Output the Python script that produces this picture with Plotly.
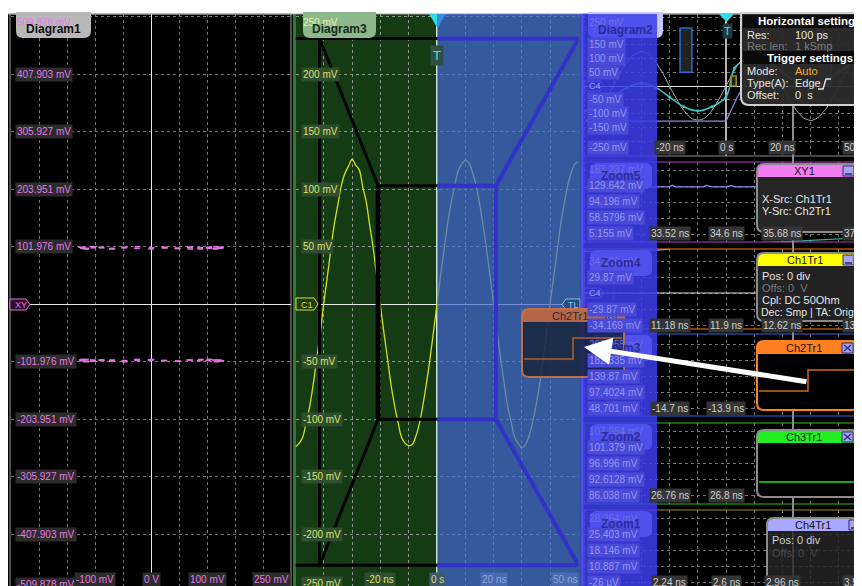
import plotly.graph_objects as go

OFF = 8  # page body margin offset of the figure in the window
W, H = 862 - OFF, 586 - OFF
def px(x): return (x - OFF) / W
def py(y): return 1 - (y - OFF) / H

# ---------------- data ----------------
t_ns = [-50, -48.75, -47.5, -46.25, -45, -43.75, -42.5, -41.25, -40, -38.75,
        -37.5, -36.25, -35, -33.75, -32.5, -31.25, -30, -28.75, -27.5, -26.25,
        -25, -23.75, -22.5, -21.25, -20, -18.75, -17.5, -16.25, -15, -13.75,
        -12.5, -11.25, -10, -8.75, -7.5, -6.25, -5, -3.75, -2.5, -1.25,
        0, 1.25, 2.5, 3.75, 5, 6.25, 7.5, 8.75, 10, 11.25,
        12.5, 13.75, 15, 16.25, 17.5, 18.75, 20, 21.25, 22.5, 23.75,
        25, 26.25, 27.5, 28.75, 30, 31.25, 32.5, 33.75, 35, 36.25,
        37.5, 38.75, 40, 41.25, 42.5, 43.75, 45, 46.25, 47.5, 48.75, 50]
ch1_mv = [-124, -121, -116, -103, -89, -70, -47, -25, 1, 24,
          48, 70, 87, 104, 114, 120, 126, 121, 117, 102,
          89, 68, 48, 23, -1, -25, -47, -70, -88, -103,
          -116, -121, -123, -122, -115, -104, -88, -69, -48, -24,
          0, 25, 47, 70, 88, 103, 116, 122, 125, 123,
          115, 104, 88, 69, 48, 24, 0, -24, -48, -69,
          -89, -103, -116, -121, -125, -122, -115, -103, -88, -70,
          -47, -25, 1, 24, 47, 70, 88, 104, 115, 122, 124]
ch2_mv = [-99, -100, -98, -101, -99, -100, -102, -99, -98, -100,
          -101, -99, -100, -98, -99, -101, -100, -99, -102, -100,
          -98, -99, -101, -100, -99, -98, -100, -101, -99, -100,
          -102, -99, -100, -98, -101, -99, -100, -99, -101, -100,
          -99,
          100, 99, 101, 98, 100, 102, 99, 100, 101, 98,
          99, 100, 101, 99, 100, 98, 102, 100, 99, 101,
          100, 98, 99, 101, 100, 99, 102, 100, 98, 101,
          99, 100, 101, 99, 98, 100, 101, 99, 100, 100]

cyan_t = [-50, -45, -40, -35, -30, -25, -20, -15, -10, -5, 0, 3, 6, 10, 15, 20, 25, 30, 35, 40, 45, 50]
cyan_mv = [-90, -75, -40, -5, 10, -5, -40, -75, -90, -75, -40, 65, 90, 100, 85, 50, 15, 0, 15, 50, 85, 100]
ch4_t = [-50, -20, 0, 4, 8, 12, 16, 50]
ch4_mv = [-127, -127, -127, -40, 30, 80, 100, 100]

# zoom panel traces (row units of each zoom panel)
z5_ch4_t = [-51, -40, -30, -25, -20, -19, -18, -10, -8, -7, -5, 0, 2, 3, 5, 10, 11, 12]
z5_ch4_row = [1.1, 1.1, 1.08, 1.06, 1.05, 0.95, 1.05, 1.06, 1.05, 0.96, 1.05, 1.05, 0.97, 1.05, 1.04, 1.05, 1.05, 1.05]
z5_teal_t = [12, 20, 30, 40, 48]
z5_teal_row = [4.55, 4.5, 4.4, 4.3, 4.25]
z4_ch4_t = [-51, -35, -28, -24, -20]
z4_ch4_row = [-0.6, -0.62, -0.64, -0.68, -0.74]
z4_c4_t = [-51, 50]
z4_c4_row = [2, 2]

# tick labels
d1_ylabels = ["509.878 mV", "407.903 mV", "305.927 mV", "203.951 mV", "101.976 mV",
              "-101.976 mV", "-203.951 mV", "-305.927 mV", "-407.903 mV", "-509.878 mV"]
d1_yvals = [509.878, 407.903, 305.927, 203.951, 101.976, -101.976, -203.951, -305.927, -407.903, -509.878]
d1_xlabels = ["-100 mV", "0 V", "100 mV", "250 mV"]
d1_xvals = [-100, 0, 100, 250]
d3_ylabels = ["250 mV", "200 mV", "150 mV", "100 mV", "50 mV", "-50 mV", "-100 mV", "-150 mV", "-200 mV", "-250 mV"]
d3_yvals = [250, 200, 150, 100, 50, -50, -100, -150, -200, -250]
d3_xlabels = ["-20 ns", "0 s", "20 ns", "50 ns"]
d3_xvals = [-20, 0, 20, 50]
d2_ylabels = ["250 mV", "150 mV", "100 mV", "50 mV", "-50 mV", "-100 mV", "-150 mV", "-250 mV"]
d2_yvals = [250, 150, 100, 50, -50, -100, -150, -250]
d2_xlabels = ["-20 ns", "0 s", "20 ns", "50 ns"]
zoom_xpos = [-20, 0, 20, 41]

zoom_names = ["Zoom5", "Zoom4", "Zoom3", "Zoom2", "Zoom1"]
zoom_top = [162, 249, 334, 423, 510]
zoom_bot = [242, 329, 416, 504, 586]
zoom_off = [8, 12, 10, 8, 8]
zoom_col = ['#b040c8', '#ff7a10', '#2a6ad8', '#20c020', '#a09010']
zoom_ylabels = [
    ["183.237 mV", "129.642 mV", "94.196 mV", "58.5796 mV", "5.155 mV"],
    ["34.169 mV", "29.87 mV", "", "-29.87 mV", "-34.169 mV"],
    ["207.955 mV", "182.335 mV", "139.87 mV", "97.4024 mV", "48.701 mV"],
    ["107.954 mV", "101.379 mV", "96.996 mV", "92.6128 mV", "86.038 mV"],
    ["28.264 mV", "25.403 mV", "18.146 mV", "10.887 mV", "-26 µV"],
]
zoom_xlabels = [
    ["33.52 ns", "34.6 ns", "35.68 ns", "37.3 ns"],
    ["11.18 ns", "11.9 ns", "12.62 ns", "13.3 ns"],
    ["-14.7 ns", "-13.9 ns"],
    ["26.76 ns", "26.8 ns"],
    ["2.24 ns", "2.6 ns", "2.96 ns", "3.5 ns"],
]
# zoom windows drawn in Diagram2 (ns, mV)
zwin_t0 = [33.5, 11.2, -16.3, 26.7, 1.8]
zwin_t1 = [37.4, 13.4, -12.1, 26.9, 3.6]
zwin_v0 = [5, -34, 50, 86, 0]
zwin_v1 = [183, 34, 210, 108, 36]

# zoom funnel in Diagram3
funnel_outer_t = [-41.5, 50]
funnel_outer_mv = [-227, 231]
funnel_inner_t = [-20.8, 20.8]
funnel_inner_mv = [-100, 103]

# thumbnails
thumb_t = [-50, 0, 0, 50]
ch2_thumb_mv = [-100, -100, 100, 100]
ch3_thumb_t = [-50, 50]
ch3_thumb_mv = [0, 0]

FONT = 'Liberation Sans, Arial, sans-serif'

# ---------------- figure ----------------
fig = go.Figure()
def sc(**kw):
    kw.setdefault('hoverinfo', 'skip')
    kw.setdefault('showlegend', False)
    fig.add_trace(go.Scatter(**kw))

sc(x=ch1_mv, y=ch2_mv, xaxis='x', yaxis='y', mode='markers',
   marker=dict(symbol='line-ew-open', size=4, color='#e274e2', line=dict(color='#e274e2', width=1.6)))
sc(x=t_ns, y=ch1_mv, xaxis='x2', yaxis='y2', mode='lines',
   line=dict(color='#d4de1a', width=1.3, shape='spline'))
sc(x=t_ns, y=ch1_mv, xaxis='x3', yaxis='y3', mode='lines',
   line=dict(color='#a9a9a9', width=1, shape='spline'))
sc(x=ch4_t, y=ch4_mv, xaxis='x3', yaxis='y3', mode='lines', line=dict(color='#8a8ae8', width=1.2))
sc(x=cyan_t, y=cyan_mv, xaxis='x3', yaxis='y3', mode='lines+markers',
   line=dict(color='#3cc8c8', width=1.5, shape='spline'), marker=dict(size=3, color='#3cc8c8'))
sc(x=z5_ch4_t, y=z5_ch4_row, xaxis='x4', yaxis='y4', mode='lines', line=dict(color='#8c8cf0', width=1.3))
sc(x=z5_teal_t, y=z5_teal_row, xaxis='x4', yaxis='y4', mode='lines', line=dict(color='#3aa8a0', width=1.3))
sc(x=z4_ch4_t, y=z4_ch4_row, xaxis='x5', yaxis='y5', mode='lines', line=dict(color='#8c8cf0', width=1.3))
sc(x=z4_c4_t, y=z4_c4_row, xaxis='x5', yaxis='y5', mode='lines', line=dict(color='#d8d8d8', width=1))

def axc(**kw):
    d = dict(showticklabels=False, ticks='', showline=False, zeroline=False, showgrid=True,
             gridcolor='#747474', griddash='3px,3px', gridwidth=1, fixedrange=True)
    d.update(kw)
    return d

lay = {}
lay['xaxis'] = axc(domain=[px(11), px(291)], range=[-250, 250], dtick=50, tick0=0, anchor='y',
                   zeroline=True, zerolinecolor='#e6e6e6', zerolinewidth=1)
lay['yaxis'] = axc(domain=[py(586), py(14)], range=[-499.7, 514.6], dtick=101.976, tick0=0, anchor='x',
                   zeroline=True, zerolinecolor='#e6e6e6', zerolinewidth=1)
lay['xaxis2'] = axc(domain=[px(295.5), px(578.5)], range=[-50, 50], dtick=10, tick0=0, anchor='y2',
                    zeroline=True, zerolinecolor='#cfe6cf', zerolinewidth=1.5, gridcolor='#8a9a8a')
lay['yaxis2'] = axc(domain=[py(586), py(14)], range=[-245.0, 252.3], dtick=50, tick0=0, anchor='x2',
                    zeroline=True, zerolinecolor='#e6e6e6', zerolinewidth=1, gridcolor='#8a9a8a')
lay['xaxis3'] = axc(domain=[px(583), px(862)], range=[-50.7, 48.2], dtick=10, tick0=0, anchor='y3',
                    zeroline=True, zerolinecolor='#b4b4b4', zerolinewidth=1.5)
lay['yaxis3'] = axc(domain=[py(156), py(14)], range=[-253.6, 261], dtick=50, tick0=0, anchor='x3',
                    zeroline=True, zerolinecolor='#e6e6e6', zerolinewidth=1)
for i in range(5):
    n = i + 4
    top, bot, off = zoom_top[i], zoom_bot[i], zoom_off[i]
    lay[f'xaxis{n}'] = axc(domain=[px(583), px(862)], range=[-50.7, 48.2], dtick=10, tick0=0, anchor=f'y{n}')
    lay[f'yaxis{n}'] = axc(domain=[py(bot), py(top)], range=[(bot - top - off) / 16, -off / 16],
                          dtick=1, tick0=0, anchor=f'x{n}')
def thumb_axes(n, x0, x1, y0, y1, yr):
    lay[f'xaxis{n}'] = dict(domain=[px(x0), px(x1)], range=[-50, 50], anchor=f'y{n}', visible=False, fixedrange=True)
    lay[f'yaxis{n}'] = dict(domain=[py(y1), py(y0)], range=yr, anchor=f'x{n}', visible=False, fixedrange=True)
thumb_axes(9, 759, 857, 355, 408, [-262, 243])
thumb_axes(10, 524, 622, 323, 375, [-252, 243])
thumb_axes(11, 759, 857, 444, 495, [-127, 373])

# ---------------- shapes ----------------
shapes = []
def P(x, y): return f"{px(x):.5f},{py(y):.5f}"
def rr(x0, y0, x1, y1, r, top=True, bottom=True):
    if top:
        s = f"M{P(x0, y0 + r)} Q{P(x0, y0)} {P(x0 + r, y0)} L{P(x1 - r, y0)} Q{P(x1, y0)} {P(x1, y0 + r)}"
    else:
        s = f"M{P(x0, y0)} L{P(x1, y0)}"
    if bottom:
        s += f" L{P(x1, y1 - r)} Q{P(x1, y1)} {P(x1 - r, y1)} L{P(x0 + r, y1)} Q{P(x0, y1)} {P(x0, y1 - r)} Z"
    else:
        s += f" L{P(x1, y1)} L{P(x0, y1)} Z"
    return s
def pathshape(path, fill='rgba(0,0,0,0)', line=None, lw=0, layer='above', xref='paper', yref='paper'):
    shapes.append(dict(type='path', path=path, xref=xref, yref=yref, fillcolor=fill, layer=layer,
                       line=dict(color=line or 'rgba(0,0,0,0)', width=lw if line else 0)))
def rect(x0, y0, x1, y1, fill='rgba(0,0,0,0)', line=None, lw=1, layer='above'):
    shapes.append(dict(type='rect', xref='paper', yref='paper', x0=px(x0), x1=px(x1), y0=py(y1), y1=py(y0),
                       fillcolor=fill, layer=layer,
                       line=dict(color=line or 'rgba(0,0,0,0)', width=lw if line else 0)))
def seg(x0, y0, x1, y1, color, w=1, layer='above', xref='paper', yref='paper'):
    if xref == 'paper':
        x0, x1 = px(x0), px(x1)
    if yref == 'paper':
        y0, y1 = py(y0), py(y1)
    shapes.append(dict(type='line', xref=xref, yref=yref, x0=x0, y0=y0, x1=x1, y1=y1, layer=layer,
                       line=dict(color=color, width=w)))
def poly(pts, fill, line=None, lw=1):
    pathshape("M" + " L".join(P(x, y) for x, y in pts) + " Z", fill, line, lw)
def tag(x0, y0, x1, y1, line, fill, left=False):
    ym = (y0 + y1) / 2
    if left:
        pts = [(x0, ym), (x0 + 4, y0), (x1, y0), (x1, y1), (x0 + 4, y1)]
    else:
        pts = [(x0, y0), (x1 - 4, y0), (x1, ym), (x1 - 4, y1), (x0, y1)]
    poly(pts, fill, line, 1)

# backgrounds (below grid)
rect(8, 14, 875, 600, fill='#000000', layer='below')
rect(293, 14, 583, 600, fill='#143b14', layer='below')
rect(10, 14, 291, 600, line='#9c9c9c', lw=1, layer='below')
seg(294.5, 14, 294.5, 600, '#2e7a2e', 3, layer='below')
seg(8, 14, 875, 14, '#a0a0a0', 1, layer='below')

# Diagram3 trigger marker (before overlay)
poly([(429, 14), (446, 14), (437.5, 28)], '#30dce4')

# Diagram3 blue overlay
rect(437, 14, 580.5, 600, fill='rgba(66,102,215,0.70)')

# zoom funnel
o_t0, o_t1 = funnel_outer_t
o_v0, o_v1 = funnel_outer_mv
i_t0, i_t1 = funnel_inner_t
i_v0, i_v1 = funnel_inner_mv
xmin = -50
black = [((xmin, o_v1), (0, o_v1)), ((xmin, o_v0), (0, o_v0)), ((o_t0, o_v0), (o_t0, o_v1)),
         ((o_t0, o_v1), (i_t0, i_v1)), ((o_t0, o_v0), (i_t0, i_v0)),
         ((i_t0, i_v1), (0, i_v1)), ((i_t0, i_v0), (0, i_v0))]
blue = [((0, o_v1), (o_t1, o_v1)), ((0, o_v0), (o_t1, o_v0)), ((0, i_v1), (i_t1, i_v1)),
        ((0, i_v0), (i_t1, i_v0)), ((i_t1, i_v0), (i_t1, i_v1)),
        ((i_t1, i_v1), (o_t1, o_v1)), ((i_t1, i_v0), (o_t1, o_v0))]
for (a, b) in black:
    seg(a[0], a[1], b[0], b[1], '#000000', 3, xref='x2', yref='y2')
seg(i_t0, i_v0, i_t0, i_v1, '#000000', 5, xref='x2', yref='y2')
for (a, b) in blue:
    seg(a[0], a[1], b[0], b[1], '#3232c8', 4, xref='x2', yref='y2')

# tags
tag(10, 299, 30, 310, '#e070e0', '#2a0e2a')
tag(296, 298, 318, 310, '#d8e020', '#1c3a0c')
tag(562, 299, 580, 310, '#7fc8e8', 'rgba(40,70,120,0.85)', left=True)

# tabs Diagram1 / Diagram3
pathshape(rr(16, 12, 91, 38, 7, top=False), '#b8b8b8')
pathshape(rr(303, 12, 376, 38, 7, top=False), '#8cb88c')

# Diagram2 area pieces (under bright overlay where applicable)
rect(583, 14, 875, 156, line='#8a8a8a', lw=1)
for i in range(5):
    rect(584, zoom_top[i], 875, zoom_bot[i] + (10 if i == 4 else 0), line=zoom_col[i], lw=1.2)
pathshape(rr(588, 12, 663, 38, 7, top=False), '#c8c8ff')
for i in range(5):
    pathshape(rr(590, zoom_top[i] + 1, 652, zoom_top[i] + 27, 7), '#c8c8ff')
tag(584, 81, 604, 91, '#9a9af8', 'rgba(0,0,0,0)')
tag(584, 288, 604, 298, '#9a9af8', 'rgba(0,0,0,0)')
for i in range(5):
    shapes.append(dict(type='rect', xref='x3', yref='y3', x0=zwin_t0[i], x1=zwin_t1[i],
                       y0=zwin_v0[i], y1=zwin_v1[i], layer='above', fillcolor='rgba(40,40,40,0.85)',
                       line=dict(color=zoom_col[i], width=1.5)))
poly([(719, 14), (734, 14), (726.5, 22)], '#30dce4')

# bright overlay over Diagram2 / zoom labels
rect(581, 14, 657, 600, fill='rgba(60,60,235,0.86)')
seg(582, 14, 582, 600, '#4b4bf5', 3)

# dialog connector
seg(793, 105, 793, 600, '#8e8e8e', 2)

# Horizontal settings box
pathshape(rr(741, 13, 880, 105, 8, top=False), 'rgba(44,44,44,0.94)', '#cfcfcf', 2)
rect(743, 15, 880, 28, fill='#0b0b0b')
rect(743, 51, 880, 64, fill='#0b0b0b')
pathshape(f"M{P(818, 89)} L{P(823, 89)} L{P(826, 79)} L{P(831, 79)}", line='#e0e0e0', lw=1.5)

ann = []
def text(x, y, s, color, size=11, xref='paper', yref='paper', xanchor='left', bg=None, bold=False,
         yshift=0, pad=1):
    a = dict(x=x, y=y, xref=xref, yref=yref, text=(f'<b>{s}</b>' if bold else s), showarrow=False,
             xanchor=xanchor, yanchor='middle', yshift=yshift, borderpad=pad,
             font=dict(family=FONT, size=size, color=color))
    if bg:
        a['bgcolor'] = bg
    ann.append(a)

def dialog(title, x0, y0, x1, y1, head, border, body, btn):
    pathshape(rr(x0, y0, x1, y1, 7), body)
    pathshape(rr(x0, y0, x1, y0 + 13, 7, bottom=False), head)
    pathshape(rr(x0, y0, x1, y1, 7), 'rgba(0,0,0,0)', border, 2)
    bx0, bx1, by0, by1 = x1 - 17, x1 - 6, y0 + 2, y0 + 12
    rect(bx0, by0, bx1, by1, fill='#a4a4ec', line='#2a2a70', lw=1)
    if btn == 'close':
        seg(bx0 + 2, by0 + 2, bx1 - 2, by1 - 2, '#2a2a70', 1.2)
        seg(bx0 + 2, by1 - 2, bx1 - 2, by0 + 2, '#2a2a70', 1.2)
    else:
        seg(bx0 + 2, by1 - 2, bx1 - 2, by1 - 2, '#2a2a70', 1.5)
    text(px((x0 + x1) / 2 - 4), py(y0 + 7), title, '#141414', 11, xanchor='center')

dialog("XY1", 757, 164, 860, 232, '#f07cf0', '#8c8c8c', '#262626', 'min')
dialog("Ch1Tr1", 757, 253, 860, 321, '#ffff00', '#8c8c8c', '#222222', 'min')
dialog("Ch2Tr1", 757, 341, 859, 410, '#ff8020', '#ff8020', '#000000', 'close')
dialog("Ch3Tr1", 757, 430, 859, 497, '#22ee22', '#8c8c8c', '#000000', 'close')
dialog("Ch4Tr1", 767, 518, 866, 600, '#a8a8ff', '#8c8c8c', 'rgba(38,38,38,0.82)', 'min')

def thumb_path(t, v):
    return "M" + " L".join(f"{a},{b}" for a, b in zip(t, v))
pathshape(thumb_path(thumb_t, ch2_thumb_mv), line='#d06a1a', lw=1.5, xref='x9', yref='y9')
pathshape(thumb_path(ch3_thumb_t, ch3_thumb_mv), line='#22dd22', lw=1.5, xref='x11', yref='y11')

# floating semi-transparent Ch2Tr1 box
pathshape(rr(522, 309, 624, 377, 7), 'rgba(22,32,52,0.78)')
pathshape(rr(522, 309, 624, 322, 7, bottom=False), 'rgba(196,110,72,0.9)')
pathshape(rr(522, 309, 624, 377, 7), 'rgba(0,0,0,0)', 'rgba(200,112,70,0.95)', 2)
rect(606, 311, 616, 320, fill='#7878c8', line='#303060', lw=1)
seg(608, 313, 614, 318, '#303060', 1)
seg(608, 318, 614, 313, '#303060', 1)
pathshape(thumb_path(thumb_t, ch2_thumb_mv), line='#b0602e', lw=1.5, xref='x10', yref='y10')

# ---------------- annotations ----------------
# Diagram1
for i, (v, s) in enumerate(zip(d1_yvals, d1_ylabels)):
    if i == 0:
        text(px(15), v, s, '#e47ae4', 10, yref='y', yshift=-6)
    elif i == len(d1_yvals) - 1:
        text(px(15), -499, s, '#e47ae4', 10, yref='y', bg='#2c2c2c', yshift=1)
    else:
        text(px(15), v, s, '#e47ae4', 10, yref='y', bg='#2c2c2c')
for i, (v, s) in enumerate(zip(d1_xvals, d1_xlabels)):
    text(v, py(579), s, '#e47ae4', 10, xref='x', xanchor='right' if i == 3 else 'center', bg='#2c2c2c')
text(px(53), py(29), "Diagram1", '#101010', 12, xanchor='center', bold=True)
text(px(13), py(304.5), "XY", '#e070e0', 9)

# Diagram3
for i, (v, s) in enumerate(zip(d3_yvals, d3_ylabels)):
    if i == 0:
        text(px(301), v, s, '#e8f0a6', 10, yref='y2', yshift=-6)
    elif i == len(d3_yvals) - 1:
        text(px(301), -244, s, '#dae36e', 10, yref='y2', bg='#2f4d2f', yshift=1)
    else:
        text(px(301), v, s, '#dae36e', 10, yref='y2', bg='#2f4d2f')
for i, (v, s) in enumerate(zip(d3_xvals, d3_xlabels)):
    if v < 0:
        text(v, py(579), s, '#dae36e', 10, xref='x2', xanchor='center', bg='#2f4d2f')
    elif v == 0:
        text(v, py(579), s, '#d0dc90', 10, xref='x2', xanchor='center', bg='#3d5a6a')
    else:
        text(v, py(579), s, '#86a6d6', 10, xref='x2', xanchor='right' if v == 50 else 'center', bg='#4a6ab2')
text(px(339), py(29), "Diagram3", '#182a18', 12, xanchor='center', bold=True)
text(px(299), py(304.5), "C1", '#d8e020', 9)
text(px(566), py(304.5), "TL", '#7fc8e8', 9)
text(px(437.5), py(55), "T", '#40e8d4', 13, xanchor='center', bg='#2f4f46', pad=2)

# Diagram2
for i, (v, s) in enumerate(zip(d2_yvals, d2_ylabels)):
    if i == 0:
        text(px(587), v, s, '#7070e4', 10, yref='y3', yshift=-5)
    elif i == len(d2_yvals) - 1:
        text(px(587), v, s, '#9696f2', 10, yref='y3', bg='#4a4ad8', yshift=8)
    else:
        text(px(587), v, s, '#9696f2', 10, yref='y3', bg='#4a4ad8')
for i, s in enumerate(d2_xlabels):
    text(zoom_xpos[i], py(147), s, '#cfcfcf', 10, xref='x3', xanchor='left' if i == 3 else 'center', bg='#353535')
text(px(625), py(30), "Diagram2", '#2c2c96', 12, xanchor='center', bold=True)
text(px(587), py(86), "C4", '#a0a0f5', 9)
text(px(727), py(31), "T", '#40e8e0', 11, xanchor='center', bg='#1e3a3e')

# zoom panels
for i in range(5):
    n = i + 4
    for r, s in enumerate(zoom_ylabels[i]):
        if not s:
            continue
        if r == 0:
            text(px(587), r, s, '#6c6ce2', 10, yref=f'y{n}')
        else:
            text(px(587), r, s, '#9696f2', 10, yref=f'y{n}', bg='#4a4ad8')
    for j, s in enumerate(zoom_xlabels[i]):
        text(zoom_xpos[j], 4, s, '#cfcfcf', 10, xref=f'x{n}', yref=f'y{n}',
             xanchor='left' if j == 3 else 'center', bg='#353535')
    text(px(621), py(zoom_top[i] + 14), zoom_names[i], '#2c2c96', 12, xanchor='center', bold=True)
text(px(587), py(293), "C4", '#a0a0f5', 9)

# Horizontal / trigger settings
text(px(756), py(21.5), "Horizontal settings", '#ffffff', 11.5, bold=True)
text(px(745), py(35), "Res:", '#e6e6e6', 11)
text(px(793), py(35), "100 ps", '#e6e6e6', 11)
text(px(745), py(46), "Rec len:", '#7c7c7c', 11)
text(px(793), py(46), "1 kSmp", '#7c7c7c', 11)
text(px(765), py(57.5), "Trigger settings", '#ffffff', 11.5, bold=True)
text(px(745), py(71), "Mode:", '#e6e6e6', 11)
text(px(793), py(71), "Auto", '#f0b020', 11)
text(px(745), py(83), "Type(A):", '#e6e6e6', 11)
text(px(793), py(83), "Edge", '#e6e6e6', 11)
text(px(745), py(95), "Offset:", '#e6e6e6', 11)
text(px(793), py(95), "0  s", '#e6e6e6', 11)

# dialog texts
text(px(760), py(199), "X-Src: Ch1Tr1", '#e6e6e6', 11)
text(px(760), py(211), "Y-Src: Ch2Tr1", '#e6e6e6', 11)
text(px(760), py(276), "Pos: 0 div", '#e6e6e6', 11)
text(px(760), py(288), "Offs: 0  V", '#7a7a7a', 11)
text(px(760), py(300), "Cpl: DC 50Ohm", '#e6e6e6', 11)
text(px(759), py(312), "Dec: Smp | TA: Orig", '#e6e6e6', 10.5)
text(px(770), py(540), "Pos: 0 div", '#d0d0d0', 11)
text(px(770), py(553), "Offs: 0  V", '#4a4a4a', 11)
text(px(570), py(315.5), "Ch2Tr1", '#2a2a2a', 11, xanchor='center')

# drag arrow
ann.append(dict(x=px(584), y=py(347), xref='paper', yref='paper', ax=224, ay=35, text='',
                showarrow=True, arrowhead=2, arrowsize=1.1, arrowwidth=5, arrowcolor='#ffffff', standoff=0))

fig.update_layout(width=W, height=H, margin=dict(l=0, r=0, t=0, b=0), autosize=False,
                  paper_bgcolor='#ffffff', plot_bgcolor='rgba(0,0,0,0)', showlegend=False,
                  hovermode=False, shapes=shapes, annotations=ann, **lay)
fig.write_html("out.html")
